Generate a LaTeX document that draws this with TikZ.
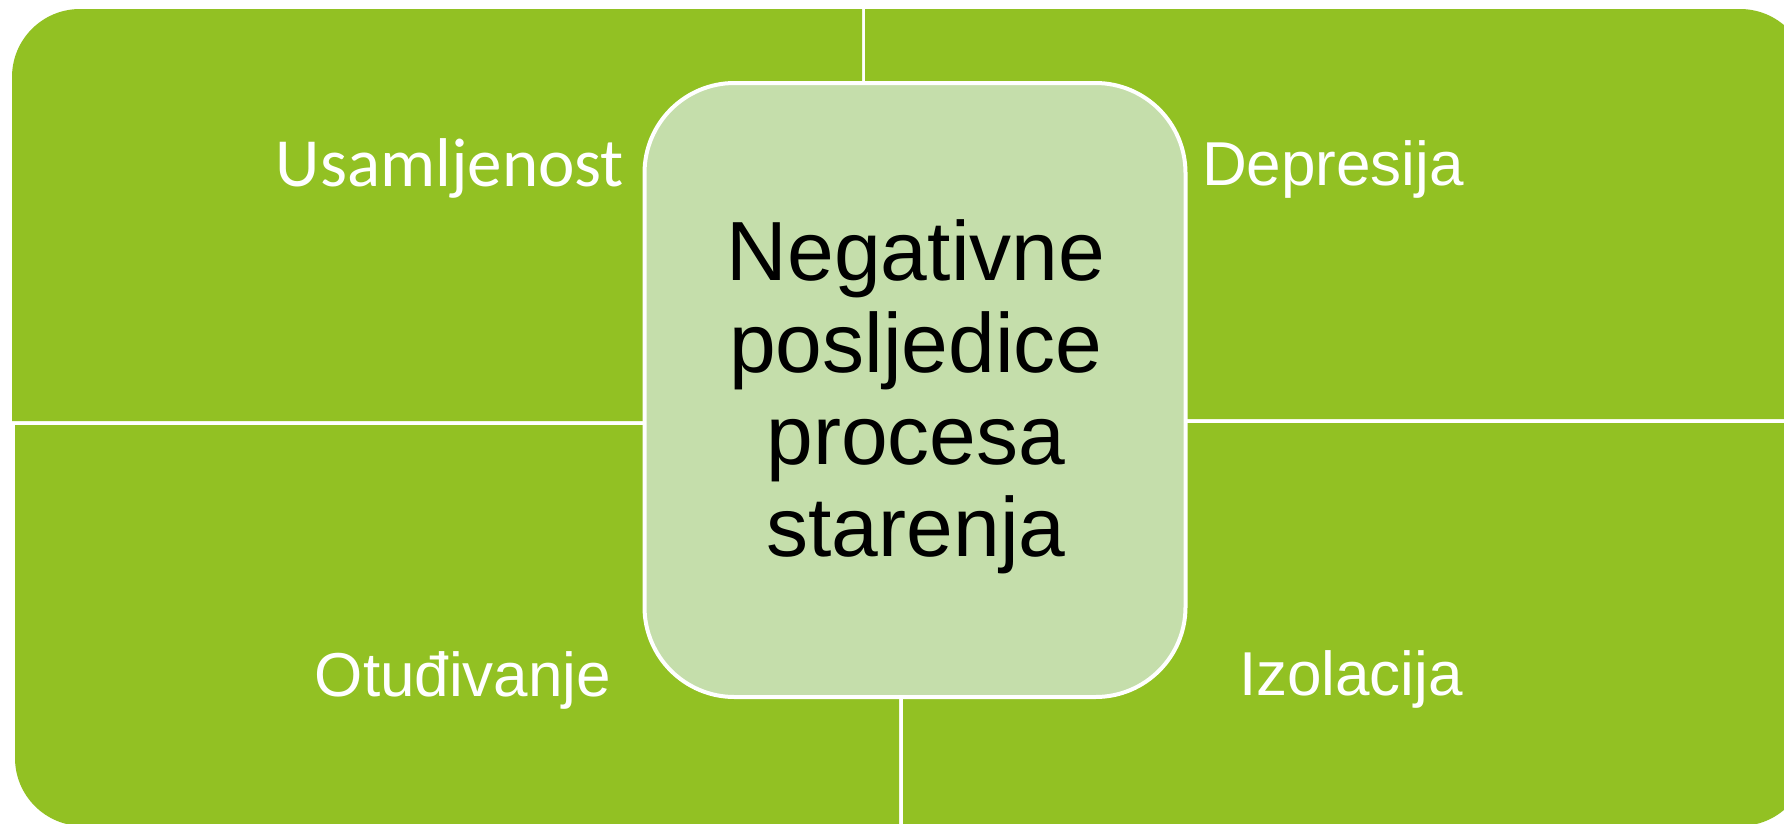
\documentclass[tikz,border=0pt]{standalone}
\usepackage{fontspec}
\setmainfont{Liberation Sans}
\newfontfamily\calib{Carlito}
\definecolor{quadgreen}{RGB}{146,193,35}
\definecolor{hubgreen}{RGB}{197,222,171}
\begin{document}
\begin{tikzpicture}[x=1pt,y=-1pt,
  quad/.style={fill=quadgreen, draw=none},
  lab/.style={text=white, inner sep=0pt, anchor=base, font=\fontsize{62pt}{68pt}\selectfont},
  hubbox/.style={draw=white, line width=4pt, fill=hubgreen, rounded corners=90pt, minimum width=541pt, minimum height=614pt, inner sep=0pt}]
\useasboundingbox (0,0) rectangle (1784,823);
\fill[white] (0,0) rectangle (1784,823);
\clip (0,0) rectangle (1784,823);
% quadrants
\path[quad] (12,421) -- (12,77) .. controls (12,39.4) and (42.4,9) .. (80,9) -- (862,9) -- (862,421) -- cycle;
\path[quad] (865,9) -- (1740,9) .. controls (1777.6,9) and (1808,39.4) .. (1808,77) -- (1808,419) -- (865,419) -- cycle;
\path[quad] (15,425) -- (899,425) -- (899,826) -- (83,826) .. controls (45.4,826) and (15,795.6) .. (15,758) -- cycle;
\path[quad] (903,423) -- (1808,423) -- (1808,758) .. controls (1808,795.6) and (1777.6,826) .. (1740,826) -- (903,826) -- cycle;
% hub
\node[hubbox] (hub) at (915,390) {};
\node[inner sep=0pt, anchor=base, align=center, font=\fontsize{84pt}{92pt}\selectfont] (title) at (916,556) {Negativne\\posljedice\\procesa\\starenja};
% labels
\node[lab, font=\fontsize{69pt}{75pt}\calib] (usam) at (450,186) {Usamljenost};
\node[lab] (depr) at (1333,185) {Depresija};
\node[lab] (otud) at (463,696) {Otuđivanje};
\node[lab] (izol) at (1351,695) {Izolacija};
\end{tikzpicture}
\end{document}
